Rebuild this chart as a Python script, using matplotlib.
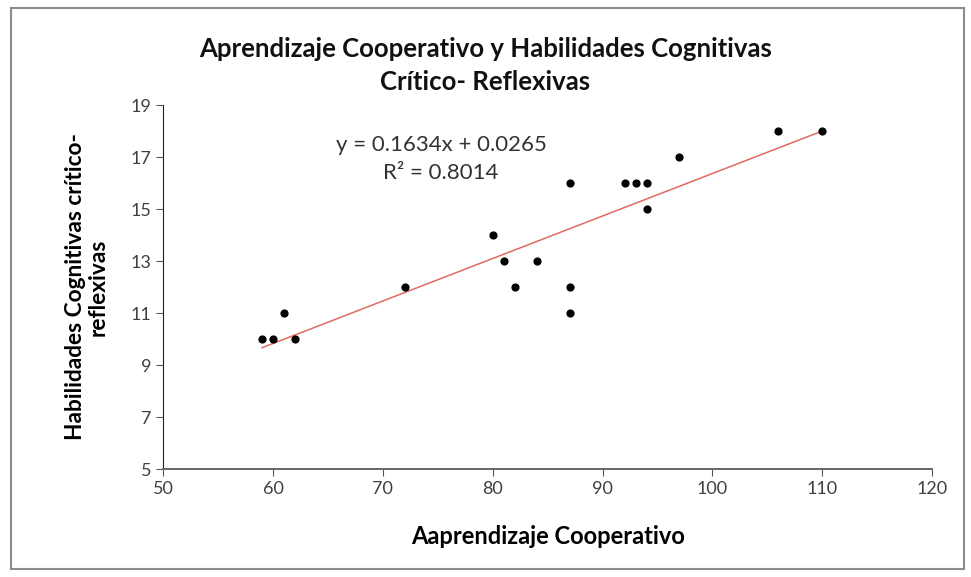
import numpy as np
import matplotlib.pyplot as plt
from matplotlib.patches import Rectangle

plt.rcParams['font.family'] = ['Lato', 'DejaVu Sans']

# data
x_coop = [59, 60, 61, 62, 72, 80, 81, 82, 84, 87, 87, 87, 92, 93, 94, 94, 97, 106, 110]
y_hab = [10, 10, 11, 10, 12, 14, 13, 12, 13, 16, 12, 11, 16, 16, 16, 15, 17, 18, 18]
slope = 0.1634
intercept = 0.0265
r2 = 0.8014

x_ticks = [50, 60, 70, 80, 90, 100, 110, 120]
y_ticks = [5, 7, 9, 11, 13, 15, 17, 19]

title = "Aprendizaje Cooperativo y Habilidades Cognitivas\nCrítico- Reflexivas"
xlabel = "Aaprendizaje Cooperativo"
ylabel = "Habilidades Cognitivas crítico-\nreflexivas"

fig = plt.figure(figsize=(9.71, 5.77), dpi=100)
ax = fig.add_axes([0.168, 0.187, 0.792, 0.631])

# outer frame of the chart
fig.patches.append(Rectangle((0.011, 0.014), 0.982, 0.972, transform=fig.transFigure,
                             fill=False, edgecolor='#8c8c8c', linewidth=1.5))

ax.scatter(x_coop, y_hab, s=24, color='black', zorder=3)

xs = np.array([min(x_coop), max(x_coop)])
ax.plot(xs, slope * xs + intercept, color='#e06a60', linewidth=1.1, zorder=2)

ax.text(75.3, 17.46, "y = %.4fx + %.4f" % (slope, intercept), ha='center', va='center',
        fontsize=16, color='#333333')
ax.text(75.3, 16.38, "R² = %.4f" % r2, ha='center', va='center',
        fontsize=16, color='#333333')

ax.set_xlim(50, 120)
ax.set_ylim(5, 19)
ax.set_xticks(x_ticks)
ax.set_yticks(y_ticks)
ax.tick_params(axis='both', labelsize=13, labelcolor='#404040', direction='out',
               length=5, color='#555555')

for side in ['top', 'right']:
    ax.spines[side].set_visible(False)
ax.spines['left'].set_color('#222222')
ax.spines['bottom'].set_color('#666666')
ax.spines['bottom'].set_linewidth(1.4)

ax.set_xlabel(xlabel, fontsize=17, fontweight='bold', labelpad=20)
ax.set_ylabel(ylabel, fontsize=16.3, fontweight='bold', labelpad=16, linespacing=1.05,
              multialignment='center')

fig.text(0.5, 0.887, title, ha='center', va='center', fontsize=18.5, fontweight='bold',
         linespacing=1.45, color='#111111')

plt.savefig('out.png', dpi=100)
